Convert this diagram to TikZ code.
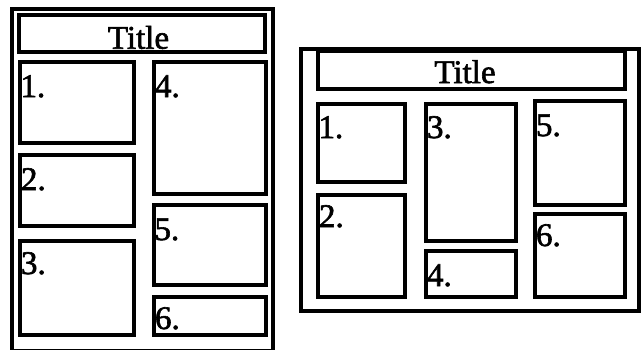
\documentclass[tikz,border=0pt]{standalone}
\usepackage{fontspec}
\setmainfont{Liberation Serif}
\newfontfamily\lblfont{Liberation Serif}[FakeBold=1.8]
\begin{document}
\begin{tikzpicture}[x=1pt,y=-1pt,
  pbox/.style={draw=black,line width=4pt,inner sep=0pt,outer sep=0pt,fill=none},
  frame/.style={draw=black,line width=4pt,inner sep=0pt,outer sep=0pt},
  lbl/.style={anchor=base west,inner sep=0pt,outer sep=0pt,font=\fontsize{33}{36}\lblfont},
  ttl/.style={anchor=base,inner sep=0pt,outer sep=0pt,font=\fontsize{33}{36}\lblfont}]
\useasboundingbox[fill=white] (0,0) rectangle (641,349);
% ---- left panel ----
\node[frame,minimum width=261pt,minimum height=342pt] (Lout) at (142.5,180) {};
\node[pbox,minimum width=246.5pt,minimum height=36.5pt] (Ltitle) at (141.75,33.25) {};
\node[pbox,minimum width=113.5pt,minimum height=81.5pt] (L1) at (76.75,102.25) {};
\node[pbox,minimum width=113.5pt,minimum height=70.5pt] (L2) at (76.75,190.25) {};
\node[pbox,minimum width=113.5pt,minimum height=94.5pt] (L3) at (76.75,287.75) {};
\node[pbox,minimum width=112pt,minimum height=132.5pt] (L4) at (210,127.75) {};
\node[pbox,minimum width=112pt,minimum height=80.5pt] (L5) at (210,244.75) {};
\node[pbox,minimum width=112pt,minimum height=38.5pt] (L6) at (210,315.75) {};
\node[ttl] (LtitleT) at (138.5,48.7) {Title};
\node[lbl] (L1t) at (20.5,97) {1.};
\node[lbl] (L2t) at (21,190) {2.};
\node[lbl] (L3t) at (21,274) {3.};
\node[lbl] (L4t) at (155,97) {4.};
\node[lbl] (L5t) at (154.5,240) {5.};
\node[lbl] (L6t) at (155,329) {6.};
% ---- right panel ----
\node[frame,minimum width=338pt,minimum height=262pt] (Rout) at (469.5,180) {};
\node[pbox,minimum width=307.5pt,minimum height=38pt] (Rtitle) at (471.25,70) {};
\node[pbox,minimum width=87pt,minimum height=78pt] (R1) at (361.5,143) {};
\node[pbox,minimum width=87pt,minimum height=102pt] (R2) at (361.5,246) {};
\node[pbox,minimum width=90pt,minimum height=137pt] (R3) at (471,172.5) {};
\node[pbox,minimum width=90pt,minimum height=46pt] (R4) at (471,274) {};
\node[pbox,minimum width=90pt,minimum height=104pt] (R5) at (580,153) {};
\node[pbox,minimum width=90pt,minimum height=83pt] (R6) at (580,255.5) {};
\node[ttl] (RtitleT) at (465,83) {Title};
\node[lbl] (R1t) at (318.5,138) {1.};
\node[lbl] (R2t) at (319,227) {2.};
\node[lbl] (R3t) at (427,138) {3.};
\node[lbl] (R4t) at (427,286) {4.};
\node[lbl] (R5t) at (536,136) {5.};
\node[lbl] (R6t) at (536,246) {6.};
\end{tikzpicture}
\end{document}
